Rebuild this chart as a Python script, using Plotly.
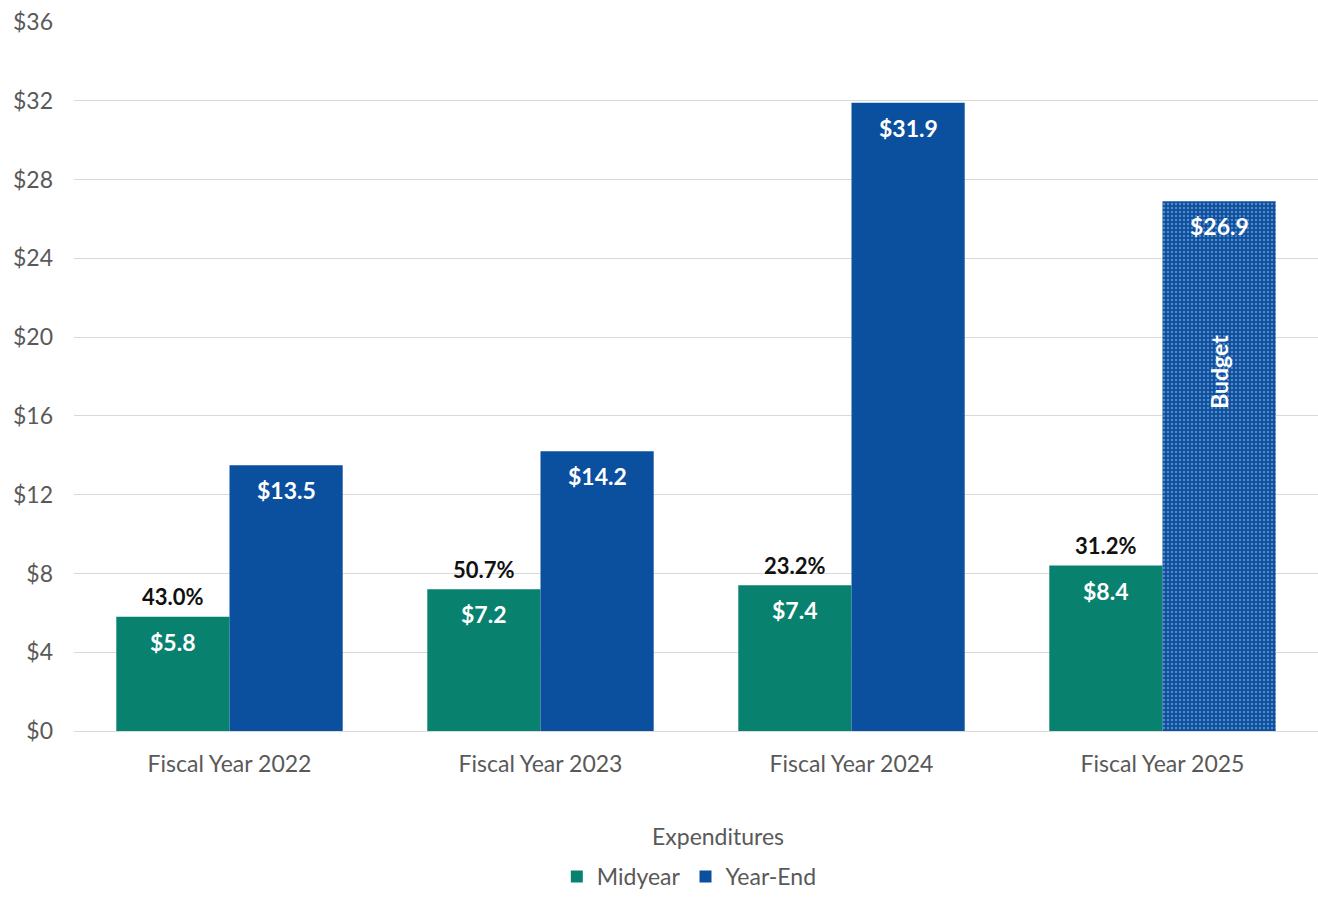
import plotly.graph_objects as go

# Expenditures by fiscal year, in billions of dollars
categories = ["Fiscal Year 2022", "Fiscal Year 2023", "Fiscal Year 2024", "Fiscal Year 2025"]
midyear = [5.8, 7.2, 7.4, 8.4]
year_end = [13.5, 14.2, 31.9, 26.9]
budget_flags = [False, False, False, True]
tick_values = [0, 4, 8, 12, 16, 20, 24, 28, 32, 36]

GREEN = "#08816F"
BLUE = "#0B4F9F"
GREY = "#595959"
FONT = "Lato, 'Open Sans', sans-serif"
HALF = 57  # pixel offset from category centre to each bar centre

W, H = 1318, 898
M_L, M_T, M_B = 74, 22, 167
plot_h = H - M_T - M_B

fig = go.Figure()

fig.add_trace(go.Bar(
    name="Midyear",
    x=categories,
    y=midyear,
    marker=dict(color=GREEN, line=dict(width=0)),
))

fig.add_trace(go.Bar(
    name="Year-End",
    x=categories,
    y=year_end,
    marker=dict(
        color=BLUE,
        line=dict(width=0),
        pattern=dict(
            shape=["." if b else "" for b in budget_flags],
            fgcolor="#A8C0E4",
            bgcolor=BLUE,
            size=4,
            solidity=0.3,
            fillmode="overlay",
        ),
    ),
))

# Value labels just inside the top of each bar
for cat, m, y in zip(categories, midyear, year_end):
    for val, shift in ((m, -HALF), (y, HALF)):
        fig.add_annotation(
            x=cat, y=val, xref="x", yref="y",
            text=f"<b>${val:.1f}</b>",
            showarrow=False, xshift=shift, yshift=-25, yanchor="middle",
            font=dict(color="white", size=23, family=FONT),
        )
    # Midyear share of year-end spending, above the midyear bar
    fig.add_annotation(
        x=cat, y=m, xref="x", yref="y",
        text=f"<b>{m / y * 100:.1f}%</b>",
        showarrow=False, xshift=-HALF, yshift=20, yanchor="middle",
        font=dict(color="#111111", size=22, family=FONT),
    )

# Vertical "Budget" label on the budgeted bar
for cat, y, b in zip(categories, year_end, budget_flags):
    if b:
        fig.add_annotation(
            x=cat, y=y * 0.677, xref="x", yref="y",
            text="<b>Budget</b>", textangle=-90,
            showarrow=False, xshift=HALF,
            font=dict(color="white", size=23, family=FONT),
        )

# Category axis title, placed in pixels below the plot area
fig.add_annotation(
    x=0.518, y=-(836 - (H - M_B)) / plot_h, xref="paper", yref="paper",
    xanchor="center", yanchor="middle",
    text="Expenditures", showarrow=False,
    font=dict(size=23, color=GREY, family=FONT),
)

fig.update_layout(
    width=W,
    height=H,
    margin=dict(l=M_L, r=0, t=M_T, b=M_B, autoexpand=False),
    paper_bgcolor="white",
    plot_bgcolor="white",
    barmode="group",
    bargap=0.272,
    bargroupgap=0,
    font=dict(family=FONT, color=GREY, size=23),
    legend=dict(
        orientation="h",
        x=0.523, xanchor="center",
        xref="container",
        y=-5 / H, yanchor="bottom",
        yref="container",
        font=dict(size=23, color=GREY),
        itemwidth=30,
        traceorder="normal",
    ),
    showlegend=True,
)

fig.update_xaxes(
    type="category",
    automargin=False,
    showgrid=False,
    showline=True,
    linecolor="#D9D9D9",
    linewidth=1,
    ticks="",
    ticklabelstandoff=12,
    tickfont=dict(size=23, color=GREY),
)

fig.update_yaxes(
    range=[0, 36],
    automargin=False,
    tickvals=tick_values,
    ticktext=[f"${v}" for v in tick_values],
    showgrid=True,
    gridcolor="#D9D9D9",
    gridwidth=1,
    zeroline=False,
    showline=False,
    ticks="",
    ticklabelstandoff=20,
    tickfont=dict(size=23, color=GREY),
)

fig.write_html("out.html")
